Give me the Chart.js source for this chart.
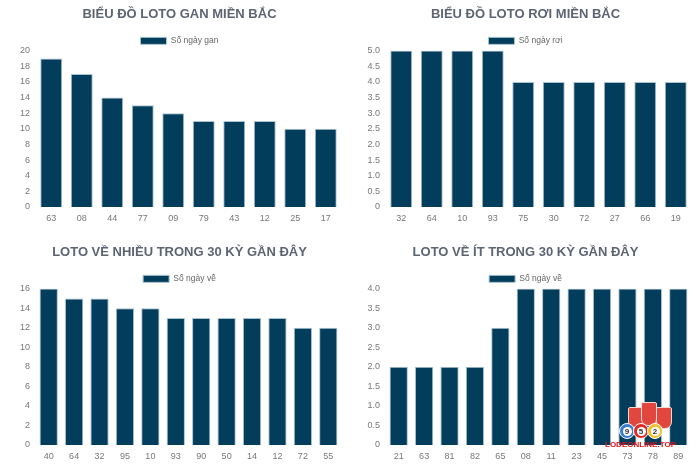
<!DOCTYPE html>
<html>
<head>
<meta charset="utf-8">
<script src="https://cdn.jsdelivr.net/npm/chart.js@4.4.4/dist/chart.umd.min.js"></script>
<style>
  body { margin: 0; background: #fff; }
  .wrap { position: absolute; width: 350px; height: 233px; }
  .mark { position: absolute; left: 605px; top: 440px; font: bold 8px 'Liberation Sans', Arial, sans-serif; color: #e3141c; }
  .shield { position: absolute; top: 404px; width: 14px; height: 20px; background: #e2473f; border-radius: 2px 2px 7px 7px; border: 1px solid #f6d9d2; }
  .ball { position: absolute; top: 423px; width: 14px; height: 14px; border-radius: 50%; border: 1px solid #fff;
          font: bold 8px 'Liberation Sans', Arial, sans-serif; color: #333; text-align: center; }
  .ball span { display: inline-block; width: 9px; height: 9px; line-height: 9px; margin-top: 2.5px; border-radius: 50%; background: #fff; }
</style>
</head>
<body>
<div class="wrap" style="left:0;top:0"><canvas id="c1"></canvas></div>
<div class="wrap" style="left:350px;top:0"><canvas id="c2"></canvas></div>
<div class="wrap" style="left:0;top:233px"><canvas id="c3"></canvas></div>
<div class="wrap" style="left:350px;top:233px"><canvas id="c4"></canvas></div>
<div class="shield" style="left:628px;top:407px"></div>
<div class="shield" style="left:656px;top:407px"></div>
<div class="shield" style="left:641px;top:402px;height:22px"></div>
<div class="ball" style="left:619px;background:#3a7bd5"><span>9</span></div>
<div class="ball" style="left:633px;background:#e32b24"><span>5</span></div>
<div class="ball" style="left:647px;background:#f2c12e"><span>2</span></div>
<div class="mark">LODEONLINE.TOP</div>
<script>
// Lô gan
const ganLabels = ['63', '08', '44', '77', '09', '79', '43', '12', '25', '17'];
const ganValues = [19, 17, 14, 13, 12, 11, 11, 11, 10, 10];
// Lô rơi
const roiLabels = ['32', '64', '10', '93', '75', '30', '72', '27', '66', '19'];
const roiValues = [5, 5, 5, 5, 4, 4, 4, 4, 4, 4];
// về nhiều
const nhieuLabels = ['40', '64', '32', '95', '10', '93', '90', '50', '14', '12', '72', '55'];
const nhieuValues = [16, 15, 15, 14, 14, 13, 13, 13, 13, 13, 12, 12];
// về ít
const itLabels = ['21', '63', '81', '82', '65', '08', '11', '23', '45', '73', '78', '89'];
const itValues = [2, 2, 2, 2, 3, 4, 4, 4, 4, 4, 4, 4];

const BAR = '#033d5c';
const FONT = "'Liberation Sans', Arial, sans-serif";

// leftPad + yWidth = 36 keeps the plot where it is, but moves title/legend right
function makeChart(id, title, seriesName, labels, values, yMax, yStep, decimals, topPad, xHeight, leftPad) {
  return new Chart(document.getElementById(id), {
    type: 'bar',
    data: {
      labels,
      datasets: [{
        label: seriesName,
        data: values,
        backgroundColor: BAR,
        borderColor: '#a9c2d2',
        borderWidth: 1,
        barPercentage: 0.8,
        categoryPercentage: 0.9,
      }],
    },
    options: {
      responsive: true, maintainAspectRatio: false, animation: false,
      layout: { padding: { left: leftPad, right: 9, top: topPad, bottom: 0 } },
      plugins: {
        title: {
          display: true, text: title, color: '#5d6472',
          font: { family: FONT, size: 13, weight: 'bold' },
          padding: { top: 7, bottom: 11 },
        },
        legend: {
          position: 'top', maxHeight: 17,
          labels: { color: '#666', font: { family: FONT, size: 8.5 }, boxWidth: 26, boxHeight: 7, padding: 3 },
        },
        tooltip: { enabled: false },
      },
      scales: {
        x: {
          grid: { display: false, drawTicks: false }, border: { display: false },
          ticks: { color: '#777', font: { family: FONT, size: 9 }, padding: 6, maxRotation: 0 },
          afterFit: s => { s.height = xHeight; },
        },
        y: {
          min: 0, max: yMax,
          grid: { display: false, drawTicks: false }, border: { display: false },
          ticks: {
            stepSize: yStep, color: '#777', font: { family: FONT, size: 9 }, padding: 6,
            callback: v => (v === 0 ? '0' : v.toFixed(decimals)),
          },
          afterFit: s => { s.width = 36 - leftPad; },
        },
      },
    },
  });
}

makeChart('c1', 'BIỂU ĐỒ LOTO GAN MIỀN BẮC', 'Số ngày gan', ganLabels, ganValues, 20, 2, 0, 0, 26, 18);
makeChart('c2', 'BIỂU ĐỒ LOTO RƠI MIỀN BẮC', 'Số ngày rơi', roiLabels, roiValues, 5, 0.5, 1, 0, 26, 10);
makeChart('c3', 'LOTO VỀ NHIỀU TRONG 30 KỲ GẦN ĐÂY', 'Số ngày về', nhieuLabels, nhieuValues, 16, 2, 0, 5, 21, 18);
makeChart('c4', 'LOTO VỀ ÍT TRONG 30 KỲ GẦN ĐÂY', 'Số ngày về', itLabels, itValues, 4, 0.5, 1, 5, 21, 10);
</script>
</body>
</html>
